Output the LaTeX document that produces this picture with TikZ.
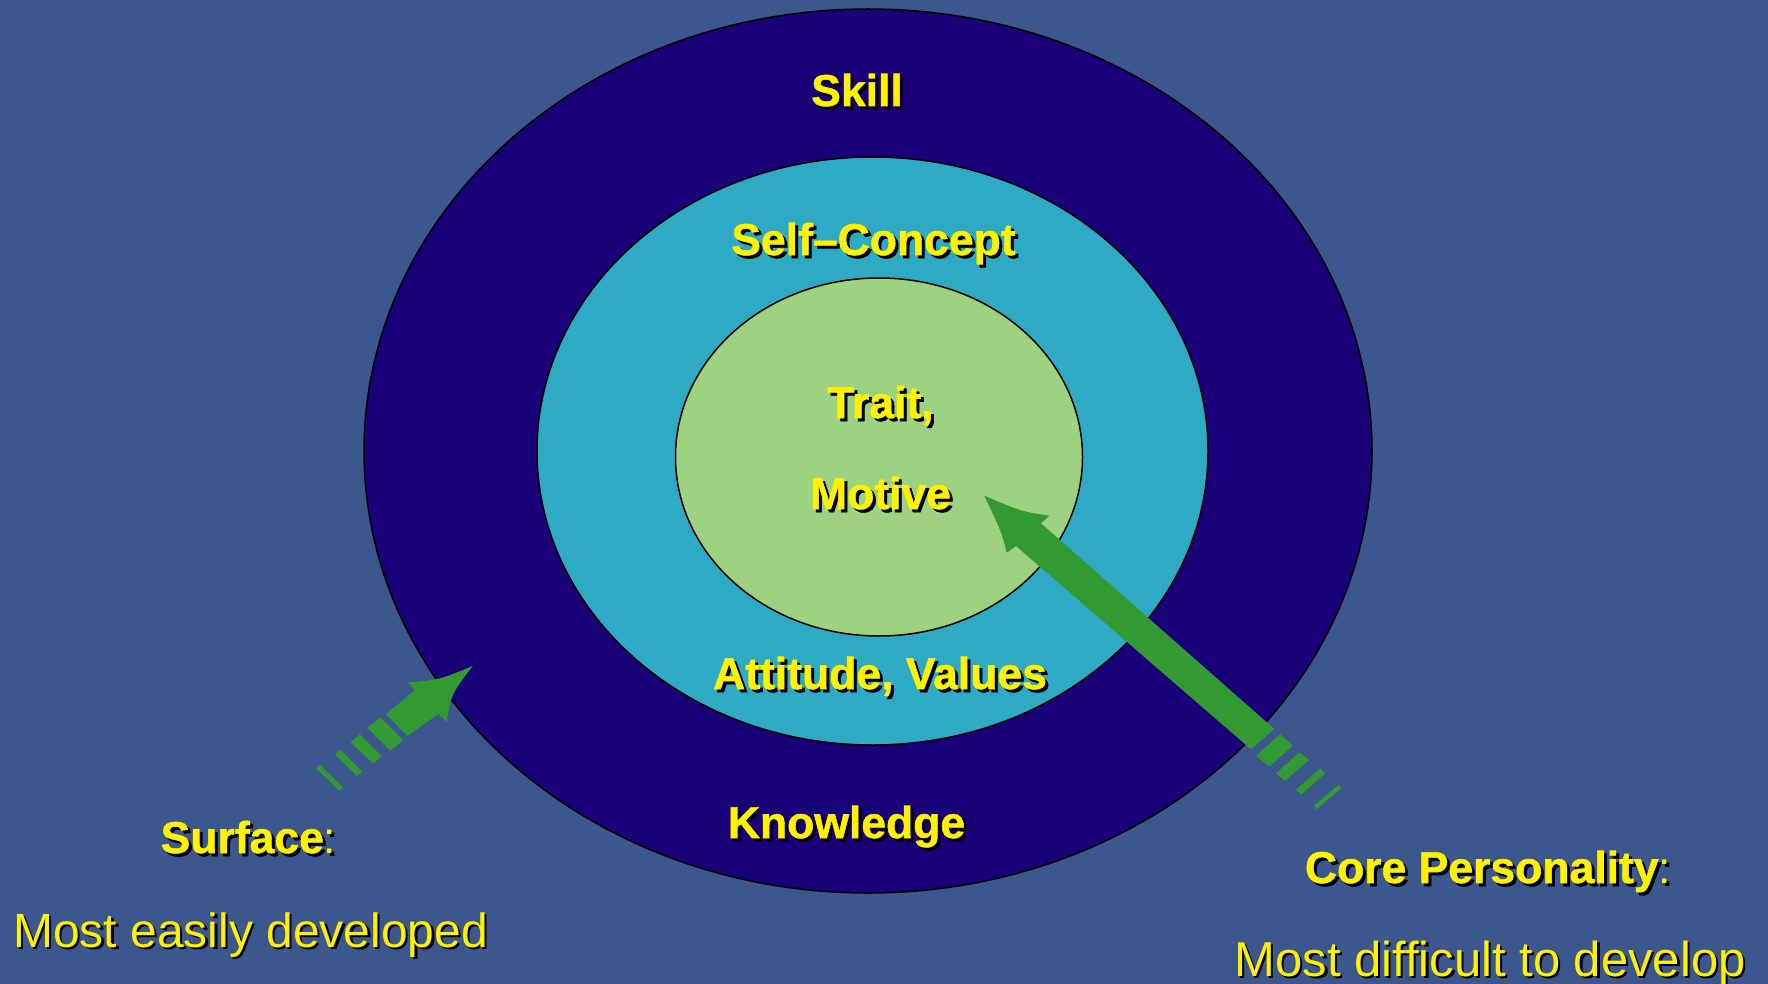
\documentclass[tikz,border=0pt]{standalone}
\usepackage{fontspec}
\setmainfont{Liberation Sans}[BoldFeatures={FakeBold=1.2}]
\usetikzlibrary{shapes.geometric}
\definecolor{bgblue}{HTML}{3C578D}
\definecolor{outerc}{HTML}{1A0078}
\definecolor{midc}{HTML}{2EAAC4}
\definecolor{innerc}{HTML}{9DD280}
\definecolor{arrowgreen}{HTML}{339933}
\newcommand\shtxt[2]{\rlap{\kern#1\raisebox{-#1}{\color{black}#2}}{\color{yellow}#2}}
\tikzset{
  ring/.style={ellipse, draw=black, line width=1.5pt, inner sep=0pt},
  boldlbl/.style={anchor=base, inner sep=0pt, font=\fontsize{44.5pt}{47pt}\selectfont\bfseries},
  plainlbl/.style={anchor=base, inner sep=0pt},
  arr/.style={fill=arrowgreen, draw=none}
}
\begin{document}
\begin{tikzpicture}[x=1pt,y=-1pt]
\useasboundingbox (0,0) rectangle (1768,984);
\fill[bgblue] (0,0) rectangle (1768,984);
% rings
\node[ring, fill=outerc, minimum width=1008pt, minimum height=884pt] (outer) at (868,451) {};
\node[ring, fill=midc, minimum width=671pt, minimum height=588pt] (middle) at (872.5,451) {};
\node[ring, fill=innerc, minimum width=407pt, minimum height=358pt] (inner) at (879,457) {};
% left arrow
\fill[arr] (472.7,666) .. controls (438.6,680) .. (407.7,682.3) -- (415,690) -- (386,714.3) -- (407.3,736) -- (438.3,714) -- (446.7,721.7) .. controls (451.4,694) .. (472.7,666) -- cycle;
\fill[arr] (367.3,727.7) -- (380.7,717.7) -- (403.3,740) -- (390,750.7) -- cycle;
\fill[arr] (350.7,742.3) -- (360,734.3) -- (381.7,756) -- (373.3,763.7) -- cycle;
\fill[arr] (335,754.3) -- (340.7,750) -- (362.3,771.7) -- (356.7,776) -- cycle;
\fill[arr] (316,768.3) -- (320,765) -- (343.3,787.7) -- (339.3,790.7) -- cycle;
% right arrow
\fill[arr] (984.3,495.7) .. controls (1021.1,511.4) .. (1049.3,515.7) -- (1041,523.3) -- (1274.3,729) -- (1251,749.3) -- (1016,546) -- (1006.7,552.7) .. controls (1001.5,531.9) .. (984.3,495.7) -- cycle;
\fill[arr] (1280,734.3) -- (1292.7,745.7) -- (1269.3,766.7) -- (1256,755.7) -- cycle;
\fill[arr] (1299.3,752.3) -- (1309,760) -- (1285,780.7) -- (1276,773.3) -- cycle;
\fill[arr] (1320,768.3) -- (1325,773.3) -- (1301.7,794.3) -- (1295.7,790) -- cycle;
\fill[arr] (1338.3,785) -- (1341.7,787.7) -- (1316.7,809.3) -- (1314,805.7) -- cycle;
% labels
\node[boldlbl] (skill) at (857,106) {\shtxt{3pt}{Skill}};
\node[boldlbl] (self) at (873.5,255) {\shtxt{3pt}{Self–Concept}};
\node[boldlbl] (trait) at (880.5,418) {\shtxt{3pt}{Trait,}};
\node[boldlbl] (motive) at (880.5,509) {\shtxt{3pt}{Motive}};
\node[boldlbl] (attitude) at (880,689) {\shtxt{3pt}{Attitude, Values}};
\node[boldlbl] (knowledge) at (846.5,838) {\shtxt{3pt}{Knowledge}};
\node[boldlbl] (surface) at (248.5,853) {\shtxt{3pt}{Surface\mdseries:}};
\node[plainlbl, font=\fontsize{48pt}{50pt}\selectfont] (easy) at (250.5,947) {\shtxt{2.5pt}{Most easily developed}};
\node[boldlbl] (core) at (1488,883) {\shtxt{3pt}{Core Personality\mdseries:}};
\node[plainlbl, font=\fontsize{49pt}{51pt}\selectfont] (hard) at (1490,976) {\shtxt{2.5pt}{Most difficult to develop}};
\end{tikzpicture}
\end{document}
